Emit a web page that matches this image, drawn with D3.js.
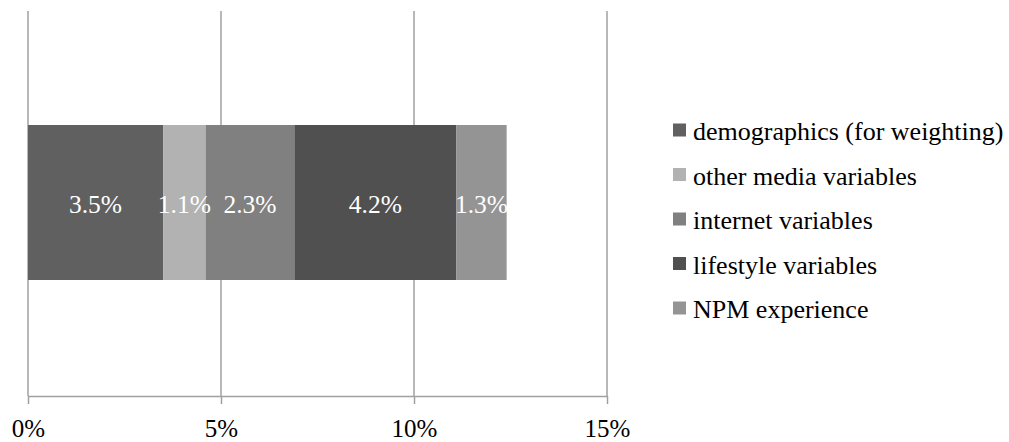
<!DOCTYPE html>
<html>
<head>
<meta charset="utf-8">
<script src="https://cdn.jsdelivr.net/npm/d3@7"></script>
<style>
  text { font-family: "Liberation Serif", "Times New Roman", Tinos, serif !important; }
</style>
</head>
<body style="margin:0">
<svg id="chart" width="1009" height="442"></svg>
<script>
// Share of explained variance contributed by each block of variables
const seriesNames = [
  "demographics (for weighting)",
  "other media variables",
  "internet variables",
  "lifestyle variables",
  "NPM experience"
];
const seriesValues = [3.5, 1.1, 2.3, 4.2, 1.3];
const seriesColors = ["#606060", "#b2b2b2", "#808080", "#505050", "#949494"];
const tickValues = [0, 5, 10, 15];
const tickLabels = ["0%", "5%", "10%", "15%"];

const serifFace = "Liberation Serif";
const svg = d3.select("#chart");

const plot = { left: 28, right: 607, top: 11, bottom: 396 };

const x = d3.scaleLinear().domain([0, 15]).range([plot.left, plot.right]);

// stacked offsets
let acc = 0;
const segments = seriesValues.map((v, i) => {
  const s = { name: seriesNames[i], value: v, x0: acc, x1: acc + v, color: seriesColors[i] };
  acc += v;
  return s;
});

// vertical gridlines
svg.append("g")
  .selectAll("line")
  .data(tickValues)
  .join("line")
  .attr("x1", d => x(d)).attr("x2", d => x(d))
  .attr("y1", plot.top).attr("y2", plot.bottom)
  .attr("stroke", "#a0a0a0").attr("stroke-width", 1.5);

// the single stacked bar
const barTop = 125, barBottom = 280;
svg.append("g")
  .selectAll("rect")
  .data(segments)
  .join("rect")
  .attr("x", d => x(d.x0))
  .attr("width", d => x(d.x1) - x(d.x0))
  .attr("y", barTop)
  .attr("height", barBottom - barTop)
  .attr("fill", d => d.color);

// value labels
svg.append("g")
  .selectAll("text")
  .data(segments)
  .join("text")
  .attr("x", d => (x(d.x0) + x(d.x1)) / 2)
  .attr("y", (barTop + barBottom) / 2 + 10)
  .attr("text-anchor", "middle")
  .attr("fill", "#ffffff")
  .attr("font-family", serifFace)
  .attr("font-size", 25.5)
  .text(d => d.value.toFixed(1) + "%");

// x axis
const axis = d3.axisBottom(x)
  .tickValues(tickValues)
  .tickFormat((d, i) => tickLabels[i])
  .tickSizeInner(8)
  .tickSizeOuter(0);

const gx = svg.append("g")
  .attr("transform", `translate(0,${plot.bottom})`)
  .call(axis)
  .attr("font-family", serifFace);
gx.select(".domain").attr("stroke", "#a0a0a0").attr("stroke-width", 1.5);
gx.selectAll(".tick line").attr("stroke", "#a0a0a0").attr("stroke-width", 1.5);
gx.selectAll(".tick text")
  .attr("fill", "#000")
  .attr("font-family", serifFace)
  .attr("font-size", 25)
  .attr("y", 41)
  .attr("dy", 0);

// legend
const legend = svg.append("g").attr("transform", "translate(673,0)");
const rowBaseline = i => 140 + i * 44.5;
const items = legend.selectAll("g")
  .data(segments)
  .join("g")
  .attr("transform", (d, i) => `translate(0,${rowBaseline(i)})`);
items.append("rect")
  .attr("x", 0).attr("y", -16.5)
  .attr("width", 13).attr("height", 13)
  .attr("fill", d => d.color);
items.append("text")
  .attr("x", 20)
  .attr("font-family", serifFace)
  .attr("font-size", 26)
  .attr("fill", "#000")
  .text(d => d.name);
</script>
</body>
</html>
